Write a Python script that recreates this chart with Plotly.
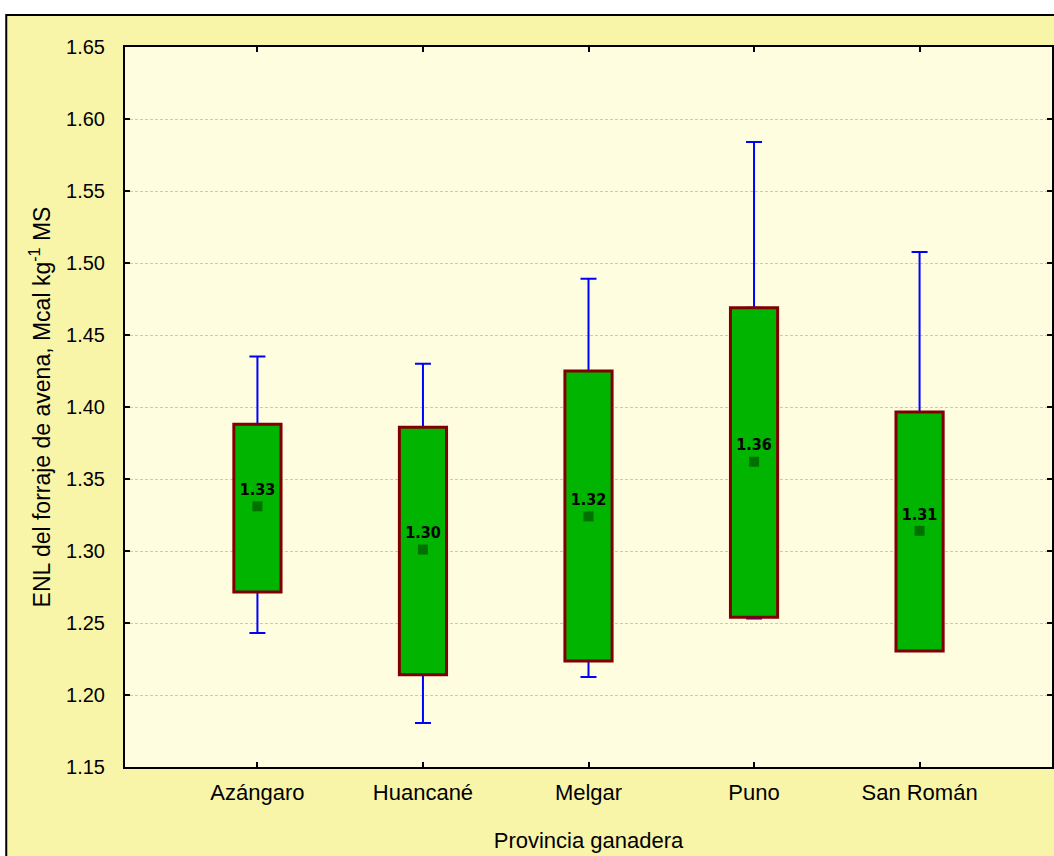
import plotly.graph_objects as go

# ---- data ----
categories = ["Azángaro", "Huancané", "Melgar", "Puno", "San Román"]
means = [1.331, 1.301, 1.324, 1.362, 1.314]
box_hi = [1.388, 1.386, 1.425, 1.469, 1.3965]
box_lo = [1.2715, 1.214, 1.2236, 1.254, 1.2306]
whisk_hi = [1.435, 1.430, 1.489, 1.584, 1.5076]
whisk_lo = [1.243, 1.1806, 1.2125, 1.2532, 1.2306]
y_ticks = [1.15, 1.20, 1.25, 1.30, 1.35, 1.40, 1.45, 1.50, 1.55, 1.60, 1.65]

pos = list(range(len(categories)))
BOX_W = 0.285

fig = go.Figure()

# upper whiskers (zero-height invisible bars at box top with upward error bars)
fig.add_trace(go.Bar(
    x=pos, y=[0] * len(pos), base=box_hi, width=BOX_W,
    marker=dict(color="rgba(0,0,0,0)", line=dict(width=0)),
    error_y=dict(type="data", symmetric=False,
                 array=[h - b for h, b in zip(whisk_hi, box_hi)],
                 arrayminus=[0] * len(pos),
                 color="#0000FF", thickness=2, width=8),
    hoverinfo="skip", showlegend=False))

# lower whiskers
fig.add_trace(go.Bar(
    x=pos, y=[0] * len(pos), base=box_lo, width=BOX_W,
    marker=dict(color="rgba(0,0,0,0)", line=dict(width=0)),
    error_y=dict(type="data", symmetric=False,
                 array=[0] * len(pos),
                 arrayminus=[b - l for b, l in zip(box_lo, whisk_lo)],
                 color="#0000FF", thickness=2, width=8),
    hoverinfo="skip", showlegend=False))

# boxes
fig.add_trace(go.Bar(
    x=pos, y=[h - l for h, l in zip(box_hi, box_lo)], base=box_lo, width=BOX_W,
    marker=dict(color="#00B400", line=dict(color="#800000", width=3)),
    showlegend=False))

# means
fig.add_trace(go.Scatter(
    x=pos, y=means, mode="markers+text",
    marker=dict(symbol="square", size=10, color="#007000"),
    texttemplate="<b>%{y:.2f}</b>", textposition="top center",
    textfont=dict(family="DejaVu Sans Condensed, Liberation Sans Narrow, sans-serif",
                  size=16, color="#000000"),
    showlegend=False))

# paper frame: white strip on top/left, black border
fig.add_shape(type="rect", xref="paper", yref="paper", layer="below",
              x0=-0.3, x1=1.2, y0=1.0444, y1=1.3,
              fillcolor="white", line=dict(width=0))
fig.add_shape(type="rect", xref="paper", yref="paper", layer="below",
              x0=-0.3, x1=-0.1281, y0=-0.3, y1=1.3,
              fillcolor="white", line=dict(width=0))
fig.add_shape(type="rect", xref="paper", yref="paper", layer="below",
              x0=-0.1281, x1=1.2, y0=-0.3, y1=1.0444,
              fillcolor="rgba(0,0,0,0)", line=dict(color="black", width=2))

fig.update_layout(
    width=1054, height=856,
    margin=dict(l=125, r=0, t=47, b=89),
    paper_bgcolor="#F8F5A9",
    plot_bgcolor="#FFFDE0",
    barmode="overlay",
    font=dict(family="Liberation Sans, Arial, sans-serif", size=21, color="black"),
    xaxis=dict(
        range=[-0.8, 4.8], tickvals=pos, ticktext=categories,
        showgrid=False, zeroline=False,
        showline=True, linecolor="black", linewidth=2, mirror="ticks",
        ticks="inside", ticklen=5, tickwidth=1.5, tickcolor="black",
        ticklabelstandoff=5,
        tickfont=dict(size=22),
        title=dict(text="Provincia ganadera", standoff=28, font=dict(size=22)),
    ),
    yaxis=dict(
        range=[1.15, 1.65], tickvals=y_ticks, tickformat=".2f",
        showgrid=True, gridcolor="#C8C8C8", gridwidth=1, griddash="3px,2px",
        zeroline=False,
        showline=True, linecolor="black", linewidth=2, mirror="ticks",
        ticks="inside", ticklen=5, tickwidth=1.5, tickcolor="black",
        ticklabelstandoff=14,
        tickfont=dict(size=20),
        title=dict(text="ENL del forraje de avena, Mcal kg<sup>-1</sup> MS",
                   standoff=9, font=dict(size=23)),
    ),
)

fig.write_html("out.html")
